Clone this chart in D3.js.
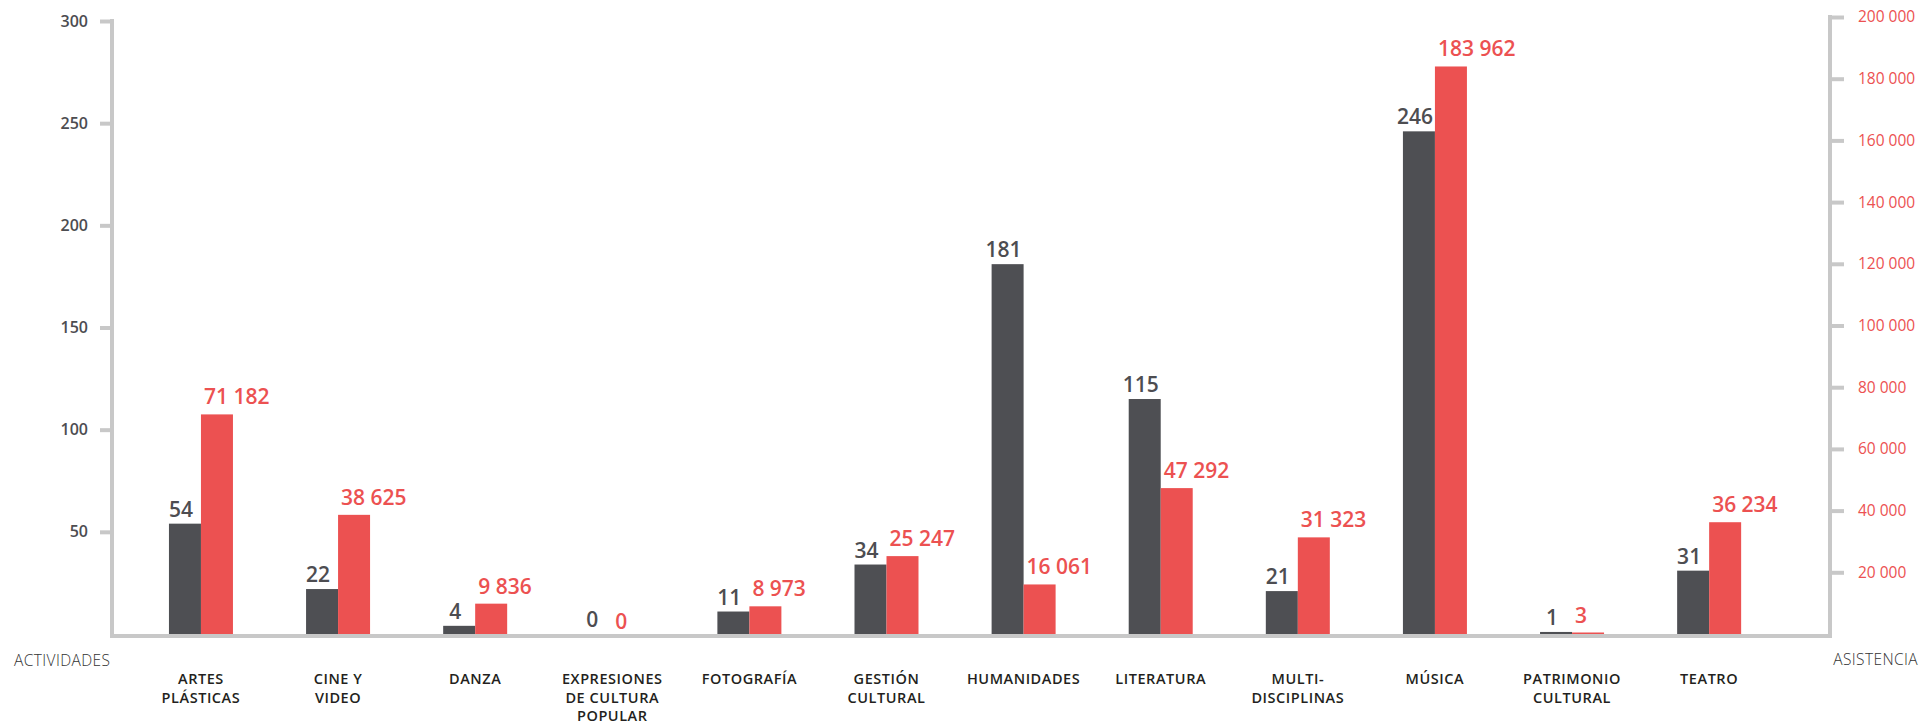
<!DOCTYPE html>
<html>
<head>
<meta charset="utf-8">
<script src="https://cdn.jsdelivr.net/npm/d3@7"></script>
<style>
  html, body { margin: 0; padding: 0; background: #ffffff; }
  svg { display: block; font-family: "Open Sans", "DejaVu Sans", sans-serif; }
</style>
</head>
<body>
<svg id="chart" width="1923" height="725"></svg>
<script>
// ---- data ----
const categories = ["ARTES PLÁSTICAS", "CINE Y VIDEO", "DANZA", "EXPRESIONES DE CULTURA POPULAR", "FOTOGRAFÍA", "GESTIÓN CULTURAL", "HUMANIDADES", "LITERATURA", "MULTI-DISCIPLINAS", "MÚSICA", "PATRIMONIO CULTURAL", "TEATRO"];
const categoryLines = [["ARTES", "PLÁSTICAS"], ["CINE Y", "VIDEO"], ["DANZA"], ["EXPRESIONES", "DE CULTURA", "POPULAR"], ["FOTOGRAFÍA"], ["GESTIÓN", "CULTURAL"], ["HUMANIDADES"], ["LITERATURA"], ["MULTI-", "DISCIPLINAS"], ["MÚSICA"], ["PATRIMONIO", "CULTURAL"], ["TEATRO"]];
const actividades = [54, 22, 4, 0, 11, 34, 181, 115, 21, 246, 1, 31];
const asistencia = [71182, 38625, 9836, 0, 8973, 25247, 16061, 47292, 31323, 183962, 3, 36234];
const leftTicks = [50, 100, 150, 200, 250, 300];
const rightTicks = [20000, 40000, 60000, 80000, 100000, 120000, 140000, 160000, 180000, 200000];
const leftTitle = "ACTIVIDADES";
const rightTitle = "ASISTENCIA";

// ---- style ----
const DARK = "#4e4f53";
const RED = "#ec5151";
const AXIS = "#c8c8c8";
const TEXT_DARK = "#4d4d51";
const CAT_TEXT = "#231f20";

const svg = d3.select("#chart");
const y0 = 634;
const axisLeftX = 112, axisRightX = 1830;

const fmt = d3.formatLocale({ decimal: ",", thousands: " ", grouping: [3], currency: ["", ""] }).format(",d");

const yLeft = d3.scaleLinear().domain([0, 300]).range([y0, 21]);
const yRight = d3.scaleLinear().domain([0, 200000]).range([y0, 17]);

const x0 = d3.scaleBand().domain(categories).range([132.4, 1777.7]).padding(0);
const barW = 32;
const x1 = d3.scaleBand().domain(["act", "asis"])
  .range([x0.bandwidth() / 2 - barW, x0.bandwidth() / 2 + barW]).padding(0);

const rows = categories.map((c, i) => ({ cat: c, lines: categoryLines[i], act: actividades[i], asis: asistencia[i] }));

// ---- bars ----
const g = svg.append("g");
const groups = g.selectAll("g.grp").data(rows).join("g")
  .attr("class", "grp")
  .attr("transform", d => `translate(${x0(d.cat)},0)`);

function barH(scale, v) {
  const h = y0 - scale(v);
  return v > 0 ? Math.max(h, 1.5) : 0;
}

groups.append("rect")
  .attr("x", x1("act")).attr("width", x1.bandwidth())
  .attr("y", d => y0 - barH(yLeft, d.act))
  .attr("height", d => barH(yLeft, d.act) + 1)
  .attr("fill", DARK);

groups.append("rect")
  .attr("x", x1("asis")).attr("width", x1.bandwidth())
  .attr("y", d => y0 - barH(yRight, d.asis))
  .attr("height", d => barH(yRight, d.asis) + 1)
  .attr("fill", RED);

// value labels
groups.append("text")
  .attr("x", x1("act") + x1.bandwidth() / 2 - 4)
  .attr("y", d => y0 - barH(yLeft, d.act) - 7)
  .attr("text-anchor", "middle")
  .attr("font-size", 21).attr("font-weight", 600)
  .attr("fill", TEXT_DARK)
  .text(d => fmt(d.act));

groups.append("text")
  .attr("x", x1("asis") + 3)
  .attr("y", d => y0 - barH(yRight, d.asis) - (d.asis > 0 ? 10 : 5))
  .attr("text-anchor", "start")
  .attr("font-size", 21).attr("font-weight", 600)
  .attr("fill", RED)
  .text(d => fmt(d.asis));

// category labels
groups.each(function (d) {
  const t = d3.select(this).append("text")
    .attr("text-anchor", "middle")
    .attr("font-size", 14.5).attr("font-weight", 600)
    .attr("letter-spacing", 0.55)
    .attr("fill", CAT_TEXT);
  d.lines.forEach((ln, k) => {
    t.append("tspan").attr("x", x0.bandwidth() / 2).attr("y", 684 + k * 18.5).text(ln);
  });
});

// ---- axes ----
const axisG = svg.append("g");
// left axis
const leftAxis = d3.axisLeft(yLeft).tickValues(leftTicks).tickSize(12).tickPadding(12).tickFormat(fmt);
const la = axisG.append("g").attr("transform", `translate(${axisLeftX},0)`).call(leftAxis);
la.select(".domain").remove();
la.selectAll(".tick line").attr("stroke", AXIS).attr("stroke-width", 4);
la.selectAll(".tick text").attr("fill", TEXT_DARK).attr("font-size", 16).attr("font-weight", 600)
  .attr("font-family", "'Open Sans', sans-serif");
la.append("line").attr("x1", 0).attr("x2", 0).attr("y1", yLeft(300) - 2).attr("y2", y0 + 4)
  .attr("stroke", AXIS).attr("stroke-width", 4);

// right axis
const rightAxis = d3.axisRight(yRight).tickValues(rightTicks).tickSize(14).tickPadding(14).tickFormat(fmt);
const ra = axisG.append("g").attr("transform", `translate(${axisRightX},0)`).call(rightAxis);
ra.select(".domain").remove();
ra.selectAll(".tick line").attr("stroke", AXIS).attr("stroke-width", 4);
ra.selectAll(".tick text").attr("fill", RED).attr("font-size", 15.5).attr("font-weight", 500)
  .attr("font-family", "'Open Sans', sans-serif");
ra.append("line").attr("x1", 0).attr("x2", 0).attr("y1", yRight(200000) - 2).attr("y2", y0 + 4)
  .attr("stroke", AXIS).attr("stroke-width", 4);

// baseline
axisG.append("line")
  .attr("x1", axisLeftX - 2).attr("x2", axisRightX + 2)
  .attr("y1", y0 + 2).attr("y2", y0 + 2)
  .attr("stroke", AXIS).attr("stroke-width", 4);

// axis titles
svg.append("text").attr("x", 14).attr("y", 666)
  .attr("font-size", 15.5).attr("font-weight", 300).attr("letter-spacing", 0.4).attr("fill", "#333333")
  .text(leftTitle);
svg.append("text").attr("x", 1918).attr("y", 665).attr("text-anchor", "end")
  .attr("font-size", 15.5).attr("font-weight", 300).attr("letter-spacing", 0.4).attr("fill", "#333333")
  .text(rightTitle);
</script>
</body>
</html>
